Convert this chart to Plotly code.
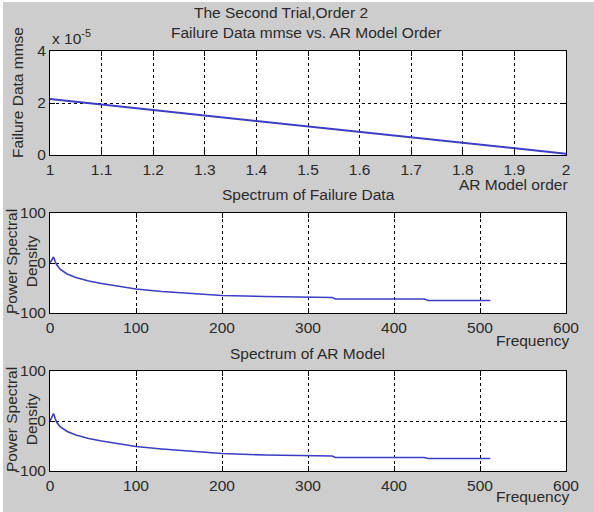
import plotly.graph_objects as go

# ---- data ----
orders = [1, 2]
mmse = [2.15e-5, 0.05e-5]

freq = [0, 2, 4, 6, 8, 12, 20, 30, 45, 60, 80, 100, 130, 160, 200, 250, 300, 328, 332, 435, 440, 512]
psd_data = [0, 6, 12, 3, -4, -13, -22, -29, -36, -41, -47, -52, -57, -61, -65, -67, -69, -69, -72, -72, -75, -75]
psd_ar = [0, 8, 15, 5, -3, -12, -21, -28, -35, -40, -46, -51, -56, -60, -65, -68, -70, -70, -73, -73, -75, -75]

x1_ticks = [1, 1.1, 1.2, 1.3, 1.4, 1.5, 1.6, 1.7, 1.8, 1.9, 2]
y1_ticks = [0, 2e-5, 4e-5]
y1_text = ["0", "2", "4"]
f_ticks = [0, 100, 200, 300, 400, 500, 600]
p_ticks = [-100, 0, 100]
p_text = ["-100", "0", "100"]

W, H = 594, 512
LINE = "#3d3dc4"
TXT = "#2a2a2a"
FONT = "Liberation Sans, Arial, sans-serif"

def px(x):
    return x / W

def py(y):
    return 1 - y / H

fig = go.Figure()
fig.add_trace(go.Scatter(x=orders, y=mmse, mode="lines", line=dict(color=LINE, width=2), xaxis="x", yaxis="y"))
fig.add_trace(go.Scatter(x=freq, y=psd_data, mode="lines", line=dict(color=LINE, width=1.6), xaxis="x2", yaxis="y2"))
fig.add_trace(go.Scatter(x=freq, y=psd_ar, mode="lines", line=dict(color=LINE, width=1.6), xaxis="x3", yaxis="y3"))

xdom = [px(50), px(566)]
common = dict(showline=True, linecolor="black", linewidth=1, mirror="allticks", ticks="inside",
              ticklen=5, tickcolor="black", showgrid=True, gridcolor="black", griddash="dot",
              gridwidth=1, zeroline=False, automargin=False,
              tickfont=dict(family=FONT, size=15.5, color=TXT))

fig.update_layout(
    width=W, height=H, margin=dict(l=0, r=0, t=0, b=0, autoexpand=False),
    paper_bgcolor="#cdcdcd", plot_bgcolor="white", showlegend=False,
    xaxis=dict(domain=xdom, anchor="y", range=[1, 2], tickvals=x1_ticks, **common),
    yaxis=dict(domain=[py(155), py(51)], anchor="x", range=[0, 4e-5], tickvals=y1_ticks, ticktext=y1_text, **common),
    xaxis2=dict(domain=xdom, anchor="y2", range=[0, 600], tickvals=f_ticks, **common),
    yaxis2=dict(domain=[py(313), py(213)], anchor="x2", range=[-100, 100], tickvals=p_ticks, ticktext=p_text, **common),
    xaxis3=dict(domain=xdom, anchor="y3", range=[0, 600], tickvals=f_ticks, **common),
    yaxis3=dict(domain=[py(471), py(371)], anchor="x3", range=[-100, 100], tickvals=p_ticks, ticktext=p_text, **common),
)

def ann(text, x, y, xanchor="center", yanchor="middle", angle=0, size=15.5):
    fig.add_annotation(text=text, x=px(x), y=py(y), xref="paper", yref="paper", showarrow=False,
                       xanchor=xanchor, yanchor=yanchor, textangle=angle,
                       font=dict(family=FONT, size=size, color=TXT))

ann("The Second Trial,Order 2", 281, 12)
ann("Failure Data mmse vs. AR Model Order", 306, 32)
ann("x 10<sup>-5</sup>", 50, 37, xanchor="left")
ann("Failure Data mmse", 17, 93, angle=-90)
ann("AR Model order", 570, 184, xanchor="right")

ann("Spectrum of Failure Data", 308, 194)
ann("Power Spectral<br>Density", 21, 262, angle=-90)
ann("Frequency", 571, 340, xanchor="right")

ann("Spectrum of AR Model", 307, 353)
ann("Power Spectral<br>Density", 21, 420, angle=-90)
ann("Frequency", 571, 496, xanchor="right")

# thin white border at top/left like the screenshot
fig.add_shape(type="rect", xref="paper", yref="paper", x0=0, x1=px(3), y0=0, y1=1, fillcolor="white", line_width=0, layer="below")
fig.add_shape(type="rect", xref="paper", yref="paper", x0=0, x1=1, y0=py(2), y1=1, fillcolor="white", line_width=0, layer="below")

fig.write_html("out.html")
